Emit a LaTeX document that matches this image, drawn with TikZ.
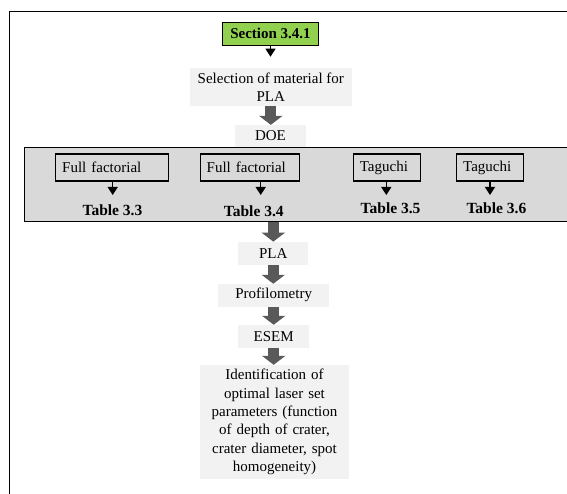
\documentclass[tikz,border=0pt]{standalone}
\usepackage{fontspec}
\setmainfont{Liberation Serif}
\usepackage{xcolor}
\definecolor{leaf}{HTML}{92D050}
\definecolor{bandgray}{HTML}{D9D9D9}
\definecolor{pale}{HTML}{F2F2F2}
\definecolor{slate}{HTML}{595959}
\usepackage{tikz}
\usetikzlibrary{
  arrows.meta,
  positioning
}

\begin{document}
\begin{tikzpicture}[
  x=1pt, y=-1pt,
  stage/.style={fill=pale, inner sep=2pt, minimum height=22.7pt, align=center, font=\fontsize{15}{18.3}\selectfont},
  head/.style={draw=black, line width=0.8pt, fill=leaf, minimum width=96pt, minimum height=23pt, font=\fontsize{15}{18}\selectfont\bfseries},
  design/.style={draw=black, line width=1.2pt, minimum height=27pt, inner xsep=6.5pt, text width=#1, align=left, font=\fontsize{15}{18}\selectfont},
  tab/.style={inner sep=0pt, font=\fontsize{15.5}{18}\selectfont\bfseries},
  fat/.style={-{Triangle[width=23pt, length=9pt]}, line width=10.7pt, slate},
  thin/.style={-{Triangle[width=10pt, length=8pt]}, line width=1.3pt, black},
]
\useasboundingbox (0,0) rectangle (567,494);

% outer frame, open at right and bottom
\draw[line width=1.3pt] (9.8,494) -- (9.8,11.7) -- (567,11.7);

\node[fill=bandgray, draw=black, line width=0.8pt, minimum width=556pt, minimum height=74.4pt, inner sep=0pt] (doeband) at (302.2,184.5) {};

\node[head] (sec) at (270.5,33.5) {Section 3.4.1};
\coordinate (secend) at (270.5,56.7);
\node[stage, minimum width=161.7pt, minimum height=37.4pt] (sel) at (270.8,87) {Selection of material for\\PLA};
\node[stage, minimum width=71pt, minimum height=21.7pt] (doe) at (270.5,135.9) {DOE};

\draw[thin] (sec.south) -- (secend);
\draw[fat] (sel.south) -- (sel.south |- doe.north);

% design boxes inside the band
\node[design=100pt] (ff1) at (112.2,167.5) {Full factorial};
\node[design=86pt] (ff2) at (249.7,167.5) {Full factorial};
\node[design=54pt] (tg1) at (386.8,167.5) {Taguchi};
\node[design=54pt] (tg2) at (490.2,167.5) {Taguchi};

\node[tab] (t33) at (112.5,210.7) {Table 3.3};
\node[tab] (t34) at (253.8,211.7) {Table 3.4};
\node[tab] (t35) at (390.6,208.3) {Table 3.5};
\node[tab] (t36) at (496.4,208.3) {Table 3.6};

\coordinate (a33) at (112.7,195);
\coordinate (a34) at (260.7,195);
\coordinate (a35) at (386.3,195);
\coordinate (a36) at (490,195);
\foreach \b/\a in {ff1/a33, ff2/a34, tg1/a35, tg2/a36}
  \draw[thin] (\b.south -| \a) -- (\a);

% analysis chain
\node[stage, minimum width=70pt, minimum height=23.3pt] (pla) at (273.3,253.5) {PLA};
\node[stage, minimum width=110.7pt] (prof) at (273.7,295.3) {Profilometry};
\node[stage, minimum width=70.7pt] (esem) at (273.7,336.3) {ESEM};
\node[stage, text width=145pt, minimum height=114pt] (opt) at (274.5,422) {Identification of\\optimal laser set\\parameters (function\\of depth of crater,\\crater diameter, spot\\homogeneity)};

\draw[fat] (pla.north |- doeband.south) -- (pla.north);
\draw[fat] (pla.south) -- (pla.south |- prof.north);
\draw[fat] (prof.south) -- (prof.south |- esem.north);
\draw[fat] (esem.south) -- (esem.south |- opt.north);

\end{tikzpicture}
\end{document}
